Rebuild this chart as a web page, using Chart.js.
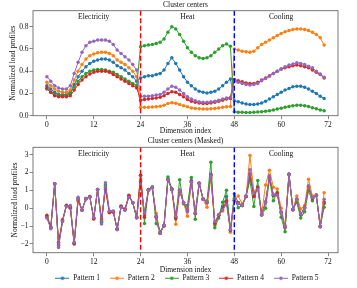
<!DOCTYPE html>
<html><head><meta charset="utf-8">
<script src="https://cdn.jsdelivr.net/npm/chart.js@4"></script>
<style>
html,body{margin:0;padding:0;background:#fff;overflow:hidden;width:357px;height:288px;}
#w1{position:absolute;left:0;top:0;width:357px;height:136px;}
#w2{position:absolute;left:0;top:136px;width:357px;height:156px;}
canvas{display:block;}
</style></head><body>
<div id="w1"><canvas id="c1" width="357" height="136"></canvas></div>
<div id="w2"><canvas id="c2" width="357" height="156"></canvas></div>
<script>
// ---- data ----
const dims = [0,1,2,3,4,5,6,7,8,9,10,11,12,13,14,15,16,17,18,19,20,21,22,23,
  24,25,26,27,28,29,30,31,32,33,34,35,36,37,38,39,40,41,42,43,44,45,46,47,
  48,49,50,51,52,53,54,55,56,57,58,59,60,61,62,63,64,65,66,67,68,69,70,71];
const xTicks = [0,12,24,36,48,60,72];
const yTicksTop = [0,0.2,0.4,0.6,0.8];
const yTicksBottom = [-2,-1,0,1,2,3];
const seriesNames = ['Pattern 1','Pattern 2','Pattern 3','Pattern 4','Pattern 5'];
const seriesColors = ['#1f77b4','#ff7f0e','#2ca02c','#d62728','#9467bd'];
const regionNames = ['Electricity','Heat','Cooling'];
const regionCenters = [12,36,60];
const boundaries = [24,48];
const boundaryColors = ['#ff0000','#0000ff'];

// Cluster centers
const center1 = [0.27,0.24,0.21,0.19,0.19,0.19,0.21,0.28,0.35,0.40,0.44,0.47,0.49,0.50,0.51,0.51,0.50,0.48,0.45,0.43,0.41,0.38,0.35,0.31,
  0.34,0.35,0.36,0.36,0.37,0.38,0.41,0.47,0.52,0.47,0.41,0.35,0.30,0.27,0.24,0.22,0.21,0.205,0.21,0.22,0.24,0.27,0.30,0.33,
  0.135,0.125,0.115,0.105,0.10,0.10,0.105,0.115,0.13,0.15,0.17,0.19,0.21,0.23,0.245,0.26,0.265,0.265,0.255,0.24,0.22,0.20,0.175,0.155];
const center2 = [0.30,0.27,0.24,0.22,0.21,0.21,0.23,0.32,0.40,0.46,0.51,0.54,0.555,0.565,0.57,0.57,0.56,0.54,0.50,0.48,0.46,0.43,0.40,0.35,
  0.075,0.075,0.075,0.078,0.08,0.085,0.095,0.11,0.117,0.112,0.10,0.09,0.08,0.07,0.065,0.062,0.06,0.06,0.062,0.065,0.07,0.075,0.08,0.082,
  0.60,0.59,0.58,0.575,0.57,0.58,0.61,0.64,0.66,0.68,0.70,0.72,0.74,0.755,0.765,0.775,0.78,0.78,0.775,0.765,0.75,0.73,0.70,0.635];
const center3 = [0.24,0.21,0.19,0.18,0.18,0.18,0.20,0.26,0.31,0.35,0.38,0.40,0.41,0.415,0.415,0.41,0.40,0.39,0.37,0.35,0.33,0.31,0.29,0.27,
  0.62,0.63,0.635,0.64,0.65,0.66,0.69,0.75,0.80,0.78,0.73,0.67,0.61,0.57,0.54,0.52,0.515,0.52,0.54,0.57,0.60,0.63,0.645,0.625,
  0.035,0.032,0.03,0.028,0.028,0.03,0.033,0.036,0.04,0.045,0.052,0.06,0.068,0.076,0.083,0.09,0.095,0.095,0.09,0.082,0.072,0.062,0.052,0.045];
const center4 = [0.25,0.21,0.18,0.17,0.17,0.17,0.18,0.23,0.28,0.32,0.35,0.375,0.39,0.40,0.40,0.40,0.39,0.37,0.35,0.33,0.31,0.29,0.27,0.25,
  0.14,0.145,0.15,0.155,0.16,0.165,0.18,0.20,0.215,0.21,0.19,0.17,0.145,0.13,0.12,0.115,0.11,0.11,0.115,0.12,0.13,0.14,0.15,0.155,
  0.325,0.315,0.305,0.295,0.29,0.29,0.30,0.32,0.34,0.36,0.38,0.40,0.42,0.43,0.44,0.45,0.455,0.45,0.44,0.43,0.41,0.39,0.37,0.34];
const center5 = [0.35,0.31,0.27,0.25,0.24,0.24,0.27,0.38,0.48,0.57,0.63,0.66,0.67,0.68,0.68,0.68,0.67,0.64,0.59,0.56,0.53,0.50,0.46,0.41,
  0.175,0.175,0.175,0.18,0.185,0.19,0.21,0.24,0.265,0.255,0.23,0.20,0.17,0.15,0.135,0.125,0.12,0.12,0.125,0.13,0.14,0.15,0.16,0.165,
  0.31,0.30,0.29,0.28,0.275,0.28,0.29,0.315,0.335,0.355,0.38,0.40,0.42,0.44,0.455,0.465,0.475,0.47,0.46,0.445,0.43,0.40,0.375,0.345];

// Cluster centers (Masked)
const masked1 = [-0.5,-1.1,1.37,-2.1,-0.72,0.12,0.1,-1.95,0.55,-0.1,0.54,0.63,-0.55,1.05,-0.8,1.3,-0.18,-0.18,-1.18,0.08,-0.1,0.66,0.3,-0.53,
  1.5,-0.3,1.05,1.15,-0.45,-1.4,-0.95,1.65,1.05,-0.5,1.0,0.3,-0.1,1.55,-0.3,1.4,0.5,0.3,1.9,-0.85,-0.4,0.1,0.65,-1.25,
  0.8,0.3,0.15,0.65,1.85,0.65,1.2,-0.35,0.35,1.8,0.7,0.8,-0.2,-1.05,1.9,-0.08,0.5,-0.35,0.05,1.25,0.6,0.72,-1.02,0.25];
const masked2 = [-0.45,-1.08,1.36,-2.0,-0.7,0.14,0.06,-1.97,0.48,-0.1,0.53,0.64,-0.57,1.05,-0.7,1.18,-0.22,-0.2,-1.16,0.1,-0.07,0.7,0.31,-0.52,
  1.6,-0.4,1.0,1.15,-0.3,-1.35,-1.0,1.6,1.05,-0.9,0.9,0.3,-0.45,1.45,-0.25,1.4,0.5,0.05,1.7,-0.95,-0.4,-0.15,0.45,-1.35,
  0.45,0.68,0.25,0.65,2.95,0.95,1.15,-0.3,1.3,2.12,1.18,1.08,0.0,-0.97,1.9,-0.06,0.68,-0.05,0.15,1.62,0.68,0.75,-1.05,0.87];
const masked3 = [-0.48,-1.1,1.37,-2.05,-0.7,0.13,0.08,-1.96,0.52,-0.1,0.54,0.63,-0.56,1.05,-0.75,1.25,-0.2,-0.19,-1.17,0.09,-0.08,0.68,0.3,-0.52,
  1.85,-0.85,1.05,1.2,-0.85,-1.3,-0.95,1.75,1.1,-0.6,1.6,0.25,0.15,1.72,-0.62,1.4,0.55,0.4,2.58,-1.1,-0.55,0.33,1.0,-1.2,
  0.55,0.03,0.15,0.65,1.55,0.1,1.55,-0.4,0.0,1.58,0.42,0.9,-0.5,-1.32,1.9,-0.08,0.33,-0.55,-0.2,0.96,0.42,0.7,-1.02,0.05];
const masked4 = [-0.4,-1.05,1.35,-1.9,-0.65,0.17,0.0,-2.0,0.4,-0.1,0.52,0.65,-0.6,1.05,-0.6,1.05,-0.25,-0.22,-1.15,0.12,-0.05,0.72,0.32,-0.5,
  1.85,-0.5,1.0,1.15,-0.5,-1.4,-1.0,1.6,1.05,-0.55,1.0,0.3,-0.15,1.5,-0.3,1.4,0.5,0.3,1.85,-0.85,-0.4,-0.05,0.4,-1.25,
  0.45,0.3,0.15,0.65,1.95,0.65,1.15,-0.35,0.35,1.75,0.72,0.82,-0.25,-1.08,1.9,-0.08,0.5,-0.35,0.03,1.22,0.55,0.72,-1.02,0.35];
const masked5 = [-0.55,-1.15,1.38,-2.2,-0.75,0.1,0.15,-1.9,0.62,-0.12,0.55,0.62,-0.52,1.05,-0.88,1.42,-0.15,-0.15,-1.2,0.05,-0.12,0.62,0.3,-0.55,
  1.3,-0.25,1.0,1.15,-0.45,-1.42,-0.95,1.6,1.05,-0.45,1.0,0.3,-0.2,1.45,-0.25,1.4,0.5,0.35,1.82,-0.75,-0.35,-0.1,0.2,-1.2,
  0.4,0.25,0.15,0.7,2.15,0.85,1.05,-0.35,0.3,1.8,0.77,0.72,-0.25,-1.05,1.9,-0.08,0.5,-0.33,0.0,1.24,0.6,0.72,-1.02,0.5];

// ---- drawing ----
const FONT = "'Liberation Serif','Times New Roman',serif";
const FS = 7.5;
const TXT = '#111';
const FRAME = '#6a6a6a';

function legendIcon(color){
  const c = document.createElement('canvas');
  c.width = 14; c.height = 5;
  const g = c.getContext('2d');
  g.strokeStyle = color; g.lineWidth = 1;
  g.beginPath(); g.moveTo(0,2.5); g.lineTo(14,2.5); g.stroke();
  g.fillStyle = color;
  g.beginPath(); g.arc(7,2.5,1.8,0,Math.PI*2); g.fill();
  return c;
}

const decor = {
  id: 'decor',
  afterLayout(chart, args, opts){
    if (opts.legendShift && chart.legend) {
      chart.legend.left += opts.legendShift;
      chart.legend.right += opts.legendShift;
    }
    if (opts.titleShift && chart.titleBlock) {
      chart.titleBlock.left += opts.titleShift;
      chart.titleBlock.right += opts.titleShift;
    }
  },
  afterDatasetsDraw(chart, args, opts){
    const {ctx, chartArea: a, scales: {x, y}} = chart;
    ctx.save();
    boundaries.forEach((b, i) => {
      const px = x.getPixelForValue(b);
      ctx.strokeStyle = boundaryColors[i];
      ctx.lineWidth = 1.4;
      ctx.setLineDash([5, 2.5]);
      ctx.beginPath(); ctx.moveTo(px, a.top); ctx.lineTo(px, a.bottom); ctx.stroke();
    });
    ctx.setLineDash([]);
    ctx.fillStyle = TXT;
    ctx.font = FS + 'px ' + FONT;
    ctx.textAlign = 'center';
    ctx.textBaseline = 'middle';
    regionNames.forEach((n, i) => {
      ctx.fillText(n, x.getPixelForValue(regionCenters[i]), a.top + opts.labelOffset);
    });
    ctx.restore();
  },
  afterDraw(chart){
    const {ctx, chartArea: a} = chart;
    ctx.save();
    ctx.strokeStyle = FRAME; ctx.lineWidth = 0.9;
    ctx.strokeRect(a.left, a.top, a.right - a.left, a.bottom - a.top);
    ctx.restore();
  }
};

function makeChart(id, values, cfg){
  const datasets = values.map((v, i) => ({
    label: seriesNames[i],
    data: v,
    borderColor: seriesColors[i],
    backgroundColor: seriesColors[i],
    borderWidth: 1,
    pointRadius: 1.75,
    pointBorderWidth: 0,
    pointHoverRadius: 1.75,
    tension: 0,
    order: values.length - 1 - i
  }));
  return new Chart(document.getElementById(id), {
    type: 'line',
    data: { labels: dims, datasets },
    options: {
      responsive: false, animation: false, devicePixelRatio: 1,
      events: [],
      layout: { padding: { left: 0, right: 19, top: 0, bottom: 0 } },
      plugins: {
        title: { display: true, text: cfg.title, color: TXT,
          font: { family: FONT, size: FS, weight: 'normal', lineHeight: 1.2 },
          padding: { top: 0.5, bottom: cfg.titleGap } },
        legend: cfg.legend,
        tooltip: { enabled: false },
        decor: { labelOffset: cfg.labelOffset, legendShift: cfg.legendShift || 0, titleShift: 16.5 }
      },
      scales: {
        x: {
          type: 'linear', min: -3.55, max: 74.55,
          afterBuildTicks: s => { s.ticks = xTicks.map(v => ({ value: v })); },
          afterFit: s => { s.height = cfg.xHeight; },
          ticks: { color: TXT, font: { family: FONT, size: FS }, padding: 1, maxRotation: 0, autoSkip: false },
          grid: { display: true, drawOnChartArea: false, drawTicks: true, tickLength: 3.5, color: FRAME, lineWidth: 0.8 },
          border: { display: false },
          title: { display: true, text: 'Dimension index', color: TXT,
            font: { family: FONT, size: FS, lineHeight: 1.2 }, padding: { top: 0, bottom: cfg.xTitlePad } }
        },
        y: {
          type: 'linear', min: cfg.yMin, max: cfg.yMax,
          afterBuildTicks: s => { s.ticks = cfg.yTicks.map(v => ({ value: v })); },
          afterFit: s => { s.width = 33; },
          ticks: { color: TXT, font: { family: FONT, size: FS }, padding: 1,
            callback: cfg.yFmt },
          grid: { display: true, drawOnChartArea: false, drawTicks: true, tickLength: 3.5, color: FRAME, lineWidth: 0.8 },
          border: { display: false },
          title: { display: true, text: 'Normalized load profiles', color: TXT,
            font: { family: FONT, size: FS, lineHeight: 1.2 }, padding: { top: cfg.yTitlePad, bottom: 0 } }
        }
      }
    },
    plugins: [decor]
  });
}

makeChart('c1', [center1, center2, center3, center4, center5], {
  title: 'Cluster centers', titleGap: 1.2,
  legend: { display: false },
  xHeight: 20.3, xTitlePad: 0.5,
  yMin: 0, yMax: 0.944, yTicks: yTicksTop,
  yFmt: v => v.toFixed(1),
  yTitlePad: 8.5, labelOffset: 6.5
});

makeChart('c2', [masked1, masked2, masked3, masked4, masked5], {
  title: 'Cluster centers (Masked)', titleGap: 1.8,
  legend: { display: true, position: 'bottom', align: 'center',
    labels: { usePointStyle: true, pointStyleWidth: 14, padding: 10, color: TXT,
      font: { family: FONT, size: FS },
      generateLabels: chart => chart.data.datasets.map((ds, i) => ({
        text: ds.label, fillStyle: ds.borderColor, strokeStyle: ds.borderColor,
        lineWidth: 0, pointStyle: legendIcon(ds.borderColor), hidden: false,
        datasetIndex: i, fontColor: TXT })) } },
  legendShift: 18,
  xHeight: 11.8, xTitlePad: -10,
  yMin: -2.49, yMax: 3.41, yTicks: yTicksBottom,
  yFmt: v => (v < 0 ? '\u2212' + Math.abs(v) : String(v)),
  yTitlePad: 10.5, labelOffset: 6.7
});
</script>
</body></html>
